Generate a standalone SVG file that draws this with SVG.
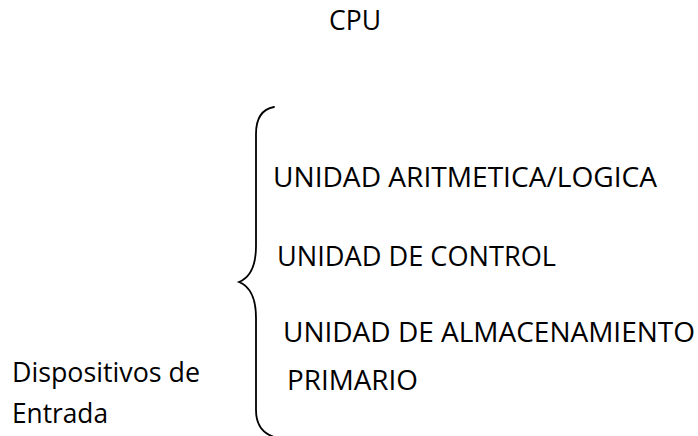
<svg xmlns="http://www.w3.org/2000/svg" width="698" height="436" viewBox="0 0 698 436">
<style>
text{font-family:"Open Sans","Liberation Sans",sans-serif;font-size:28px;fill:#000}
.brace{fill:none;stroke:#000;stroke-width:1.8;stroke-linecap:round}
</style>
<rect width="698" height="436" fill="#fff"/>
<g id="cpu"><text x="329" y="30" textLength="52" lengthAdjust="spacingAndGlyphs">CPU</text></g>
<g id="connectors">
<path class="brace" d="M274 107 C263 109 256 117 256 134 L256 246 C256 268 249 278 239 282 C249 286 256 296 256 318 L256 410 C256 425 262 433 274 437"/>
</g>
<g id="alu"><text x="273" y="187" textLength="384" lengthAdjust="spacingAndGlyphs">UNIDAD ARITMETICA/LOGICA</text></g>
<g id="control"><text x="277" y="266" textLength="279" lengthAdjust="spacingAndGlyphs">UNIDAD DE CONTROL</text></g>
<g id="almacenamiento">
<text x="283" y="342" textLength="412" lengthAdjust="spacingAndGlyphs">UNIDAD DE ALMACENAMIENTO</text>
<text x="287" y="390" textLength="131" lengthAdjust="spacingAndGlyphs">PRIMARIO</text>
</g>
<g id="entrada">
<text x="12" y="382" textLength="188" lengthAdjust="spacingAndGlyphs">Dispositivos de</text>
<text x="12" y="423" textLength="96" lengthAdjust="spacingAndGlyphs">Entrada</text>
</g>
</svg>
